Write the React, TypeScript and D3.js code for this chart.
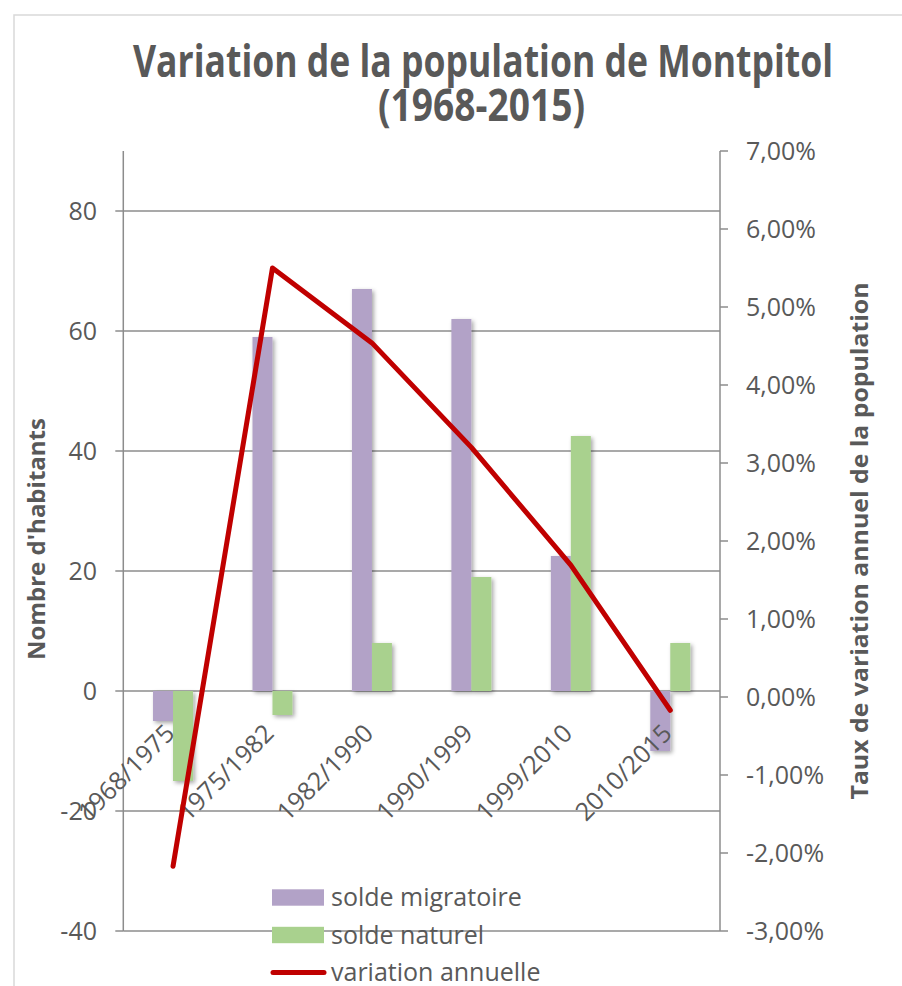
import React from "react";
import * as d3 from "d3";

const categories = ["1968/1975", "1975/1982", "1982/1990", "1990/1999", "1999/2010", "2010/2015"];
const soldeMigratoire = [-5, 59, 67, 62, 22.5, -10];
const soldeNaturel = [-15, -4, 8, 19, 42.5, 8];
const variationAnnuelle = [-2.17, 5.5, 4.54, 3.2, 1.69, -0.17];
const leftTicks = [-40, -20, 0, 20, 40, 60, 80];
const rightTicks = [-3, -2, -1, 0, 1, 2, 3, 4, 5, 6, 7];
const legendLabels = ["solde migratoire", "solde naturel", "variation annuelle"];

const W = 902;
const H = 986;
const plotLeft = 123.3;
const plotRight = 720;
const plotTop = 151;
const plotBottom = 931;

const PURPLE = "#b2a2c7";
const GREEN = "#a9d18e";
const RED = "#c00000";
const TEXT = "#595959";
const GRID = "#8c8c8c";
const FONT = "'Open Sans', 'Noto Sans', sans-serif";

export default function App() {
  const x = d3.scaleBand<string>().domain(categories).range([plotLeft, plotRight]).padding(0);
  const yL = d3.scaleLinear().domain([-40, 90]).range([plotBottom, plotTop]);
  const yR = d3.scaleLinear().domain([-3, 7]).range([plotBottom, plotTop]);
  const bw = x.bandwidth() * 0.201;
  const cx = (c: string) => (x(c) as number) + x.bandwidth() / 2;

  const line = d3
    .line<number>()
    .x((_, i) => cx(categories[i]))
    .y((d) => yR(d));

  const fmtPct = (v: number) => v.toFixed(2).replace(".", ",") + "%";

  return (
    <svg
      width={W}
      height={H}
      style={{ position: "absolute", left: 0, top: 0, background: "#fff" }}
      fontFamily={FONT}
    >
      <defs>
        <filter id="shadow" x="-50%" y="-20%" width="200%" height="140%">
          <feDropShadow dx="2" dy="2" stdDeviation="2" floodColor="#000" floodOpacity="0.35" />
        </filter>
      </defs>
      <rect x={0} y={0} width={W} height={H} fill="#fff" />
      <rect x={14} y={15} width={W} height={H} fill="none" stroke="#d9d9d9" strokeWidth={1.5} />

      {/* Title */}
      <text x={483} y={77} textAnchor="middle" fontSize={44} fontWeight="bold" fill={TEXT}
        textLength={700} lengthAdjust="spacingAndGlyphs">
        Variation de la population de Montpitol
      </text>
      <text x={481.5} y={121} textAnchor="middle" fontSize={44} fontWeight="bold" fill={TEXT}
        textLength={207} lengthAdjust="spacingAndGlyphs">
        (1968-2015)
      </text>

      {/* Gridlines */}
      {leftTicks.map((t) => (
        <line key={"g" + t} x1={plotLeft} x2={plotRight} y1={yL(t)} y2={yL(t)} stroke={GRID} strokeWidth={1.5} />
      ))}

      {/* Left axis */}
      <line x1={plotLeft} x2={plotLeft} y1={plotTop} y2={plotBottom} stroke={GRID} strokeWidth={1.5} />
      {leftTicks.map((t) => (
        <g key={"l" + t}>
          <line x1={plotLeft - 8} x2={plotLeft} y1={yL(t)} y2={yL(t)} stroke={GRID} strokeWidth={1.5} />
          <text x={97} y={yL(t)} dy="0.35em" textAnchor="end" fontSize={25} fill={TEXT}>
            {t}
          </text>
        </g>
      ))}

      {/* Right axis */}
      <line x1={plotRight} x2={plotRight} y1={plotTop} y2={plotBottom} stroke={GRID} strokeWidth={1.5} />
      {rightTicks.map((t) => (
        <g key={"r" + t}>
          <line x1={plotRight} x2={plotRight + 8} y1={yR(t)} y2={yR(t)} stroke={GRID} strokeWidth={1.5} />
          <text x={746} y={yR(t)} dy="0.35em" textAnchor="start" fontSize={25} fill={TEXT}>
            {fmtPct(t)}
          </text>
        </g>
      ))}

      {/* Bars */}
      <g filter="url(#shadow)">
        {categories.map((c, i) => {
          const v = soldeMigratoire[i];
          return (
            <rect key={"m" + c} x={cx(c) - bw} width={bw}
              y={Math.min(yL(v), yL(0))} height={Math.abs(yL(v) - yL(0))} fill={PURPLE} />
          );
        })}
        {categories.map((c, i) => {
          const v = soldeNaturel[i];
          return (
            <rect key={"n" + c} x={cx(c)} width={bw}
              y={Math.min(yL(v), yL(0))} height={Math.abs(yL(v) - yL(0))} fill={GREEN} />
          );
        })}
      </g>

      {/* Category labels */}
      {categories.map((c) => (
        <text key={"c" + c} transform={`translate(${cx(c) + 3},${735}) rotate(-45)`}
          textAnchor="end" fontSize={25} fill={TEXT}>
          {c}
        </text>
      ))}

      {/* Line */}
      <path d={line(variationAnnuelle) || ""} fill="none" stroke={RED} strokeWidth={5}
        strokeLinejoin="round" strokeLinecap="round" />

      {/* Axis titles */}
      <text transform={`translate(45,539) rotate(-90)`} textAnchor="middle" fontSize={24}
        fontWeight="bold" fill={TEXT}>
        Nombre d'habitants
      </text>
      <text transform={`translate(868,541) rotate(-90)`} textAnchor="middle" fontSize={24}
        fontWeight="bold" fill={TEXT} textLength={517} lengthAdjust="spacingAndGlyphs">
        Taux de variation annuel de la population
      </text>

      {/* Legend */}
      {legendLabels.map((lab, i) => {
        const yc = 897.5 + i * 37.5;
        return (
          <g key={"lg" + i}>
            {i < 2 ? (
              <rect x={272} y={yc - 8.2} width={52} height={16.4} fill={i === 0 ? PURPLE : GREEN} />
            ) : (
              <line x1={273} x2={324} y1={yc} y2={yc} stroke={RED} strokeWidth={5} strokeLinecap="round" />
            )}
            <text x={331} y={yc} dy="0.35em" fontSize={25} fill={TEXT}>
              {lab}
            </text>
          </g>
        );
      })}
    </svg>
  );
}
